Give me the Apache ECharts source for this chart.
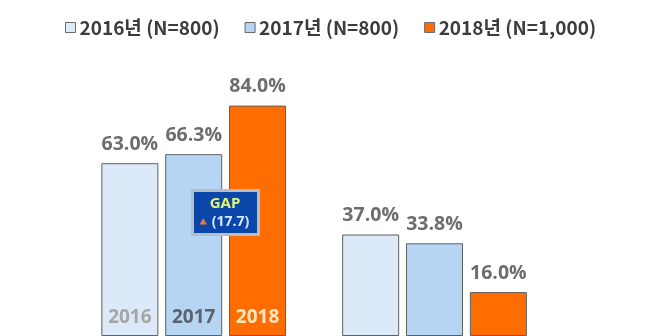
<!DOCTYPE html>
<html>
<head>
<meta charset="utf-8">
<script src="https://cdn.jsdelivr.net/npm/echarts@6/dist/echarts.min.js"></script>
<style>
  html, body { margin: 0; padding: 0; background: #ffffff; }
  #chart { width: 646px; height: 336px; }
</style>
</head>
<body>
<div id="chart"></div>
<script>
const categories = ['그룹1', '그룹2'];
const seriesNames = ['2016년 (N=800)', '2017년 (N=800)', '2018년 (N=1,000)'];
const yearLabels = ['2016', '2017', '2018'];
const values2016 = [63.0, 37.0];
const values2017 = [66.3, 33.8];
const values2018 = [84.0, 16.0];
const gapTitle = 'GAP';
const gapValue = '(17.7)';

const barColors = ['#dce9f8', '#b5d5f3', '#ff6c00'];
const yearColors = ['#a6a6a6', '#59626e', '#ffe8c2'];
const allValues = [values2016, values2017, values2018];

const chart = echarts.init(document.getElementById('chart'), null, { renderer: 'canvas' });

const series = allValues.map((vals, i) => ({
  name: seriesNames[i],
  type: 'bar',
  data: vals,
  barWidth: 57,
  barGap: '12%',
  itemStyle: { color: barColors[i], borderColor: '#5f5f5f', borderWidth: 1 },
  label: {
    show: true,
    position: 'top',
    distance: 9,
    formatter: p => p.value.toFixed(1) + '%',
    fontFamily: '"Open Sans", "Noto Sans", sans-serif',
    fontWeight: 'bold',
    fontSize: 19.5,
    color: '#6d6d6d'
  },
  markPoint: {
    symbol: 'rect',
    symbolSize: [1, 1],
    itemStyle: { color: 'rgba(0,0,0,0)' },
    silent: true,
    label: {
      show: true,
      position: 'inside',
      offset: [0, -18],
      formatter: p => p.name,
      fontFamily: '"Open Sans", "Noto Sans", sans-serif',
      fontWeight: 'bold',
      fontSize: 19,
      color: yearColors[i]
    },
    data: [{ name: yearLabels[i], coord: [0, 0] }]
  }
}));

chart.setOption({
  animation: false,
  backgroundColor: '#ffffff',
  legend: {
    data: seriesNames,
    left: 60,
    top: 13,
    itemWidth: 10,
    itemHeight: 10,
    itemGap: 25,
    icon: 'rect',
    textStyle: {
      fontFamily: '"Noto Sans CJK KR", sans-serif',
      fontSize: 19,
      fontWeight: 'bold',
      color: '#3c3c3c',
      padding: [0, 0, 0, -1]
    },
    itemStyle: { borderColor: '#6a6a6a', borderWidth: 1 }
  },
  grid: { left: 73.3, right: 91.1, top: 61.7, bottom: -2.2, containLabel: false },
  xAxis: {
    type: 'category',
    data: categories,
    axisLine: { show: false },
    axisTick: { show: false },
    axisLabel: { show: false }
  },
  yAxis: {
    type: 'value',
    min: 0,
    max: 100,
    interval: 20,
    show: false,
    splitLine: { show: false }
  },
  series: series,
  graphic: [{
    type: 'group',
    left: 191,
    top: 189,
    z: 100,
    children: [
      { type: 'rect', z: 100, shape: { x: 0, y: 0, width: 69, height: 47 }, style: { fill: '#b9bdca' } },
      { type: 'rect', z: 101, shape: { x: 3, y: 3, width: 63, height: 41 }, style: { fill: '#0a47a9' } },
      { type: 'text', z: 102, x: 34, y: 14.5, style: { text: gapTitle, fill: '#e2f47c', font: 'bold 15px "Open Sans", sans-serif', align: 'center', verticalAlign: 'middle' } },
      { type: 'polygon', z: 102, shape: { points: [[8.5, 35.5], [16, 35.5], [12.25, 29.3]] }, style: { fill: '#e07a3c' } },
      { type: 'text', z: 102, x: 39.5, y: 33, style: { text: gapValue, fill: '#d9e8ff', font: 'bold 14px "Open Sans", sans-serif', align: 'center', verticalAlign: 'middle' } }
    ]
  }]
});
</script>
</body>
</html>
